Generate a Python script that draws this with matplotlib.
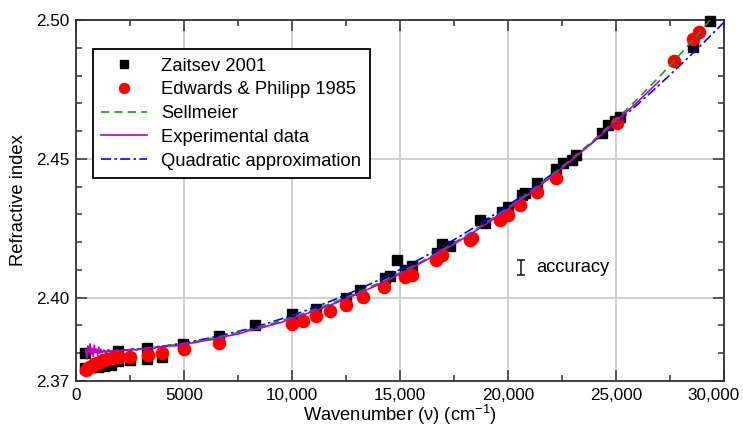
import matplotlib
matplotlib.use("Agg")
import matplotlib.pyplot as plt
from matplotlib.ticker import MultipleLocator, FixedLocator, FuncFormatter

plt.rcParams['font.family'] = ['Liberation Sans', 'DejaVu Sans']
plt.rcParams['mathtext.fontset'] = 'custom'
plt.rcParams['mathtext.rm'] = 'Liberation Sans'
plt.rcParams['mathtext.it'] = 'Liberation Sans:italic'

# Zaitsev 2001 (black squares)
zaitsev_nu = [400, 400, 700, 1000, 1300, 1600, 1960, 1960, 2500, 3300, 3300, 3970,
              4970, 6610, 8300, 9985, 11100, 12500, 13150, 14300, 14540, 14850,
              15230, 15540, 16700, 16950, 17315, 18700, 18935, 19700, 20015, 20630,
              20780, 21330, 22200, 22560, 22950, 23150, 24340, 24645, 24955, 25185,
              28580, 29350]
zaitsev_n = [2.3801, 2.3747, 2.3749, 2.3752, 2.3755, 2.3758, 2.3807, 2.3771, 2.3777,
             2.3820, 2.3780, 2.3788, 2.3833, 2.3862, 2.3903, 2.3942, 2.3960, 2.3999,
             2.4029, 2.4071, 2.4079, 2.4137, 2.4101, 2.4113, 2.4161, 2.4195, 2.4185,
             2.4281, 2.4269, 2.4310, 2.4328, 2.4371, 2.4376, 2.4413, 2.4462, 2.4484,
             2.4496, 2.4514, 2.4592, 2.4622, 2.4638, 2.4652, 2.4904, 2.4998]

# Edwards & Philipp 1985 (red circles)
edwards_nu = [450, 550, 650, 750, 850, 950, 1100, 1250, 1450, 1650, 1850, 2000, 2480,
              3340, 3970, 4980, 6630, 9985, 10500, 11100, 11760, 12500, 13300, 14270,
              15230, 15540, 16650, 16950, 18240, 18330, 19630, 20015, 20555, 21360,
              22200, 25030, 27685, 28550, 28840]
edwards_n = [2.3741, 2.3745, 2.3750, 2.3755, 2.3760, 2.3764, 2.3769, 2.3774, 2.3779,
             2.3783, 2.3786, 2.3788, 2.3786, 2.3793, 2.3800, 2.3814, 2.3837, 2.3904,
             2.3917, 2.3933, 2.3953, 2.3975, 2.4003, 2.4037, 2.4074, 2.4083, 2.4137,
             2.4152, 2.4209, 2.4215, 2.4281, 2.4299, 2.4335, 2.4382, 2.4432, 2.4628,
             2.4853, 2.4931, 2.4956]

# Sellmeier curve (green dashed)
sell_nu = [500, 1000, 2000, 3000, 4000, 5000, 6000, 7000, 8000, 9000, 10000, 11000,
           12000, 13000, 14000, 15000, 16000, 17000, 18000, 19000, 20000, 21000,
           22000, 23000, 24000, 25000, 26000, 27000, 28000, 29000, 30000]
sell_n = [2.3804, 2.3805, 2.3809, 2.3815, 2.3824, 2.3835, 2.3849, 2.3865, 2.3884,
          2.3905, 2.3929, 2.3956, 2.3985, 2.4017, 2.4052, 2.4090, 2.4130, 2.4174,
          2.4221, 2.4271, 2.4324, 2.4380, 2.4440, 2.4503, 2.4570, 2.4641, 2.4716,
          2.4795, 2.4879, 2.4967, 2.5059]

# Experimental data (magenta)
exp_nu = [450, 500, 550, 600, 650, 700, 750, 800, 850, 900, 950, 1000, 1050, 1100,
          1150, 1200, 1300, 1400, 1500, 1600, 1700, 1800, 1900, 2000, 2200, 2400,
          2600, 2800, 3000, 3200, 3400, 3600, 3800, 4000, 4300, 4600, 5000, 5500,
          6000, 6500, 7000, 7500, 8000, 8500, 9000, 9500, 10000, 11000, 12000, 13000,
          14000, 15000, 16000, 17000, 18000, 19000, 20000, 21000, 22000, 23000,
          24000, 25000, 26000, 27000]
exp_n = [2.3812, 2.3779, 2.3826, 2.3801, 2.3834, 2.3796, 2.3818, 2.3788, 2.3829,
         2.3803, 2.3815, 2.3792, 2.3822, 2.3800, 2.3814, 2.3802, 2.3811, 2.3799,
         2.3813, 2.3804, 2.3810, 2.3805, 2.3812, 2.3807, 2.3813, 2.3809, 2.3816,
         2.3811, 2.3817, 2.3814, 2.3821, 2.3817, 2.3825, 2.3821, 2.3827, 2.3826,
         2.3834, 2.3838, 2.3846, 2.3851, 2.3862, 2.3869, 2.3881, 2.3889, 2.3901,
         2.3911, 2.3925, 2.3951, 2.3980, 2.4012, 2.4047, 2.4085, 2.4126, 2.4170,
         2.4216, 2.4266, 2.4319, 2.4375, 2.4435, 2.4498, 2.4565, 2.4635, 2.4705,
         2.4780]

# Quadratic approximation (blue dash-dot)
quad_nu = [420, 1000, 2000, 3000, 4000, 5000, 6000, 7000, 8000, 9000, 10000, 11000,
           12000, 13000, 14000, 15000, 16000, 17000, 18000, 19000, 20000, 21000,
           22000, 23000, 24000, 25000, 26000, 27000, 28000, 29000, 30000]
quad_n = [2.3804, 2.3805, 2.3809, 2.3816, 2.3825, 2.3837, 2.3852, 2.3869, 2.3888,
          2.3911, 2.3936, 2.3964, 2.3994, 2.4027, 2.4063, 2.4101, 2.4142, 2.4185,
          2.4232, 2.4281, 2.4332, 2.4386, 2.4443, 2.4502, 2.4564, 2.4629, 2.4696,
          2.4766, 2.4839, 2.4914, 2.4992]

acc_nu = 20600
acc_n = 2.4109
acc_err = 0.0028

FS = 13.2      # labels, legend
TFS = 12.3     # tick labels

fig = plt.figure(figsize=(7.43, 4.30), dpi=100)
ax = fig.add_axes([0.1023, 0.1140, 0.8721, 0.8395])

ax.plot(zaitsev_nu, zaitsev_n, 's', color='black', markersize=7.2, clip_on=False,
        zorder=3, label='Zaitsev 2001')
ax.plot(edwards_nu, edwards_n, 'o', color='#ff0000', markersize=8.8, clip_on=False,
        zorder=3, label='Edwards & Philipp 1985')
ax.plot(quad_nu, quad_n, color='#0000ff', linestyle=(0, (6, 2, 1.5, 2)), lw=1.2,
        zorder=4, label='Quadratic approximation')
ax.plot(sell_nu, sell_n, color='#1a9a1a', linestyle=(0, (5, 3)), lw=1.2, zorder=5,
        label='Sellmeier')
ax.plot(exp_nu, exp_n, color='#c000c0', lw=1.2, zorder=5, label='Experimental data')

ax.errorbar([acc_nu], [acc_n], yerr=[acc_err], fmt='none', ecolor='#222222',
            elinewidth=1.2, capsize=3, capthick=1.2, zorder=4)
ax.text(21300, acc_n, 'accuracy', fontsize=FS, va='center', ha='left')

ax.set_xlim(0, 30000)
ax.set_ylim(2.37, 2.50)
ax.xaxis.set_major_locator(MultipleLocator(5000))
ax.xaxis.set_minor_locator(MultipleLocator(2500))
# last label (30,000) sits left of its tick in the original
ax.xaxis.set_major_formatter(FuncFormatter(
    lambda v, p: '' if v >= 30000 else (f'{int(v):,}' if v >= 10000 else f'{int(v)}')))
ax.annotate('30,000', xy=(30000, 0), xycoords=('data', 'axes fraction'),
            xytext=(-7.5, -5), textcoords='offset points', ha='center', va='top',
            fontsize=TFS)
ax.yaxis.set_major_locator(FixedLocator([2.37, 2.40, 2.45, 2.50]))
ax.yaxis.set_minor_locator(MultipleLocator(0.01))
ax.yaxis.set_major_formatter(FuncFormatter(lambda v, p: f'{v:.2f}'))

ax.tick_params(which='both', direction='in', top=True, right=True,
               colors='#333333', labelcolor='black', labelsize=TFS, width=1.1)
ax.tick_params(which='major', length=8, pad=5)
ax.tick_params(which='minor', length=4)
for s in ax.spines.values():
    s.set_color('#333333')
    s.set_linewidth(1.3)

ax.grid(True, which='major', color='#cccccc', lw=1.3, zorder=0)
ax.set_axisbelow(True)

ax.set_xlabel(r'Wavenumber (ν) (cm$^{-1}$)', fontsize=FS, labelpad=0)
ax.set_ylabel('Refractive index', fontsize=FS, labelpad=6)

h, l = ax.get_legend_handles_labels()
order = [0, 1, 3, 4, 2]
leg = ax.legend([h[i] for i in order], [l[i] for i in order],
                loc='upper left', bbox_to_anchor=(0.0258, 0.9188), borderaxespad=0,
                fontsize=FS, fancybox=False, framealpha=1, edgecolor='black',
                handlelength=2.5, labelspacing=0.37, borderpad=0.45,
                handletextpad=0.8, markerscale=0.82)
leg.get_frame().set_linewidth(1.3)
leg.set_zorder(10)

fig.savefig('out.png', dpi=100)
